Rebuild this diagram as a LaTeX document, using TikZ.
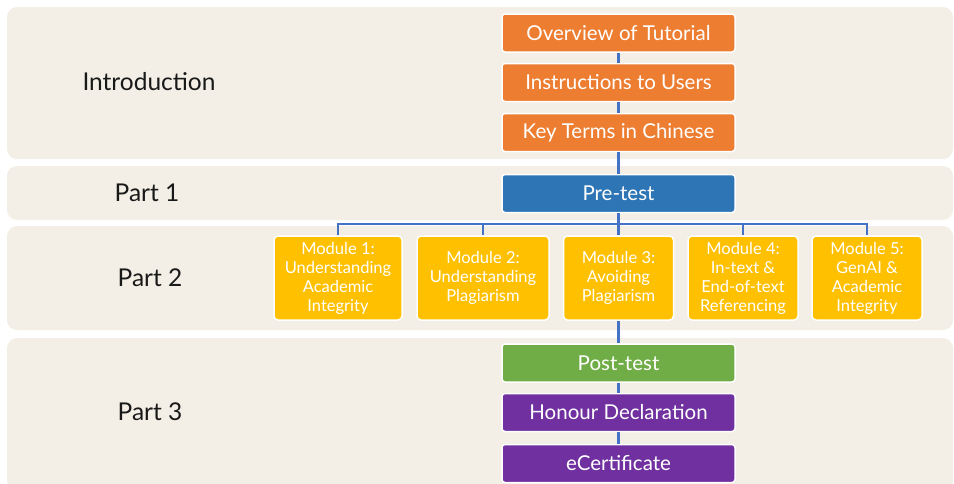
\documentclass[tikz,border=0pt]{standalone}
\usepackage{fontspec}
\setmainfont{Lato}
\usepackage{tikz}
\usetikzlibrary{calc}

\definecolor{bandbg}{HTML}{F3EFE6}
\definecolor{boxorange}{HTML}{ED7D31}
\definecolor{boxblue}{HTML}{2E75B6}
\definecolor{boxyellow}{HTML}{FFC000}
\definecolor{boxgreen}{HTML}{70AD47}
\definecolor{boxpurple}{HTML}{7030A0}
\definecolor{linkblue}{HTML}{4472C4}

\begin{document}
\begin{tikzpicture}[x=1pt,y=-1pt,
  band/.style={fill=bandbg,rounded corners=10pt},
  part/.style={font=\fontsize{24.5}{28}\selectfont,text=black!90},
  bar/.style={draw=white,line width=1.5pt,rounded corners=3pt,text=white,
    minimum width=233pt,minimum height=38pt,inner sep=0pt,
    font=\fontsize{20.5}{24}\selectfont},
  modbox/.style={draw=white,line width=1.5pt,rounded corners=4pt,text=white,
    fill=boxyellow,minimum height=84pt,inner sep=0pt,align=center,
    font=\fontsize{16.5}{19}\selectfont},
  link/.style={draw=linkblue,line width=2.5pt}]

  \useasboundingbox (0,0) rectangle (954,483);

  % rows
  \fill[band] (7,7) rectangle (953,159);
  \fill[band] (7,166) rectangle (953,220);
  \fill[band] (7,226) rectangle (953,330);
  \fill[band] (7,338) rectangle (953,490);

  \node[part] (intro) at (149,82) {Introduction};
  \node[part] (pa) at (147,193) {Part 1};
  \node[part] (pb) at (150,278) {Part 2};
  \node[part] (pc) at (150,412) {Part 3};

  % boxes
  \node[bar,fill=boxorange] (ov) at (618.5,33) {Overview of Tutorial};
  \node[bar,fill=boxorange] (ins) at (618.5,82.5) {Instructions to Users};
  \node[bar,fill=boxorange] (key) at (618.5,132.5) {Key Terms in Chinese};
  \node[bar,fill=boxblue] (pre) at (618.5,193.5) {Pre-test};

  \node[modbox,minimum width=128pt] (ma) at (338,278) {Module 1:\\Understanding\\Academic\\Integrity};
  \node[modbox,minimum width=132pt] (mb) at (483,278) {Module 2:\\Understanding\\Plagiarism};
  \node[modbox,minimum width=110pt] (mc) at (618.5,278) {Module 3:\\Avoiding\\Plagiarism};
  \node[modbox,minimum width=110pt] (md) at (743,278) {Module 4:\\In-text \&\\End-of-text\\Referencing};
  \node[modbox,minimum width=110pt] (me) at (867,278) {Module 5:\\GenAI \&\\Academic\\Integrity};

  \node[bar,fill=boxgreen] (post) at (618.5,363) {Post-test};
  \node[bar,fill=boxpurple] (hon) at (618.5,412.5) {Honour Declaration};
  \node[bar,fill=boxpurple] (cert) at (618.5,463.5) {eCertificate};

  % connectors
  \coordinate (bus) at (618.5,224);
  \draw[link] (ov) -- (ins);
  \draw[link] (ins) -- (key);
  \draw[link] (key) -- (pre);
  \foreach \m in {ma,mb,mc,md,me}
    \draw[link] (pre) -- (bus) -| (\m.north);
  \draw[link] (mc) -- (post);
  \draw[link] (post) -- (hon);
  \draw[link] (hon) -- (cert);

\end{tikzpicture}
\end{document}
